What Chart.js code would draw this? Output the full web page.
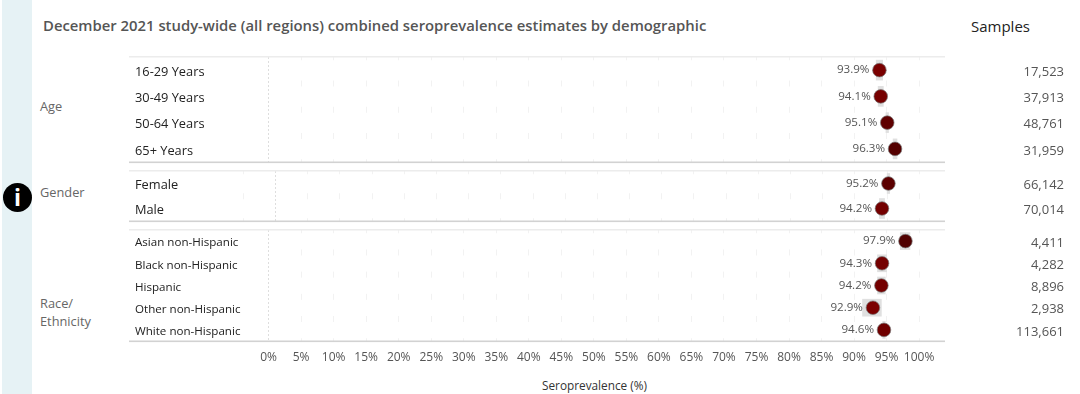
<!DOCTYPE html>
<html><head><meta charset="utf-8">
<style>
html,body{margin:0;padding:0;background:#fff;width:1080px;height:394px;overflow:hidden}
canvas{position:absolute;left:0;top:0}
.t{position:absolute;white-space:nowrap;font-family:"Open Sans",sans-serif}
#band{position:absolute;left:2px;top:0;width:30px;height:394px;background:#e6f2f5}
#info{position:absolute;left:3px;top:183px;width:29px;height:29px;border-radius:50%;background:#000;color:#fff;font:bold 23px/29px "Open Sans",sans-serif;text-align:center}
.g{color:#666;font-size:12.8px;left:40px}
</style></head><body>
<div id="band"></div>
<div class="t" style="left:43px;top:15px;font-size:14.85px;font-weight:600;color:#555">December 2021 study-wide (all regions) combined seroprevalence estimates by demographic</div>
<div class="t" style="left:971px;top:16px;font-size:15px;color:#222">Samples</div>
<div class="t g" style="top:97px">Age</div>
<div class="t g" style="top:183px">Gender</div>
<div class="t g" style="top:294px">Race/</div>
<div class="t g" style="top:312px">Ethnicity</div>
<div id="info">i</div>
<div class="t" style="left:542px;top:377px;font-size:11.8px;color:#333">Seroprevalence (%)</div>
<canvas id="c1" width="1080" height="394"></canvas>
<canvas id="c2" width="1080" height="394"></canvas>
<canvas id="c3" width="1080" height="394"></canvas>
<script src="https://cdn.jsdelivr.net/npm/chart.js@4"></script>
<script>
const ageLabels=["16-29 Years","30-49 Years","50-64 Years","65+ Years"];
const ageValues=[93.9,94.1,95.1,96.3];
const ageLow=[93.4,93.7,94.9,96.0];
const ageHigh=[94.4,94.5,95.3,96.6];
const ageSamples=["17,523","37,913","48,761","31,959"];
const ageColors=["#7a0000","#760000","#5f0000","#540000"];

const genderLabels=["Female","Male"];
const genderValues=[95.2,94.2];
const genderLow=[95.0,93.8];
const genderHigh=[95.4,94.6];
const genderSamples=["66,142","70,014"];
const genderColors=["#5c0000","#740000"];

const raceLabels=["Asian non-Hispanic","Black non-Hispanic","Hispanic","Other non-Hispanic","White non-Hispanic"];
const raceValues=[97.9,94.3,94.2,92.9,94.6];
const raceLow=[97.1,93.6,93.6,91.3,94.4];
const raceHigh=[98.6,95.0,94.8,94.2,94.8];
const raceSamples=["4,411","4,282","8,896","2,938","113,661"];
const raceColors=["#500000","#740000","#740000","#7c0000","#700000"];

const axisTicks=[0,5,10,15,20,25,30,35,40,45,50,55,60,65,70,75,80,85,90,95,100];
const FONT='"Open Sans",sans-serif';

const annot={id:'annot',
  beforeDatasetsDraw(ch){
    const a=ch.chartArea,c=ch.ctx;c.save();
    c.fillStyle='#ececec';c.fillRect(a.left,a.top-1,a.right-a.left,1.5);
    c.fillStyle='#d2d2d2';c.fillRect(a.left,a.bottom-.5,a.right-a.left,1.6);
    c.restore();
  },
  afterDatasetsDraw(ch,args,o){
    const c=ch.ctx,y=ch.scales.y,x=ch.scales.x;c.save();c.textBaseline='middle';
    c.fillStyle='#555';
    o.values.forEach((v,i)=>{
      c.font='11.6px '+FONT;c.textAlign='right';
      c.fillText(v.toFixed(1)+'%',x.getPixelForValue(v)-10,y.getPixelForTick(i));
      c.font='13px '+FONT;
      c.fillText(o.samples[i],1064,y.getPixelForTick(i)+2);
    });
    c.restore();
  }};

function panel(id,labels,values,low,high,samples,colors,cfg){
  const data=labels.map((l,i)=>({x:values[i],y:l}));
  return new Chart(document.getElementById(id),{
    type:'bar',
    plugins:[annot],
    data:{labels,datasets:[
      {type:'line',indexAxis:'y',data,showLine:false,order:1,
       pointRadius:6.8,pointBorderWidth:1,pointBorderColor:'rgba(120,120,120,.7)',
       pointBackgroundColor:colors},
      {type:'bar',data:low.map((v,i)=>[v,high[i]]),order:2,
       backgroundColor:'#e0e0e0',barThickness:cfg.ci}
    ]},
    options:{indexAxis:'y',responsive:false,animation:false,maintainAspectRatio:false,
      layout:{padding:{left:129,right:135,top:cfg.top,bottom:cfg.bottom}},
      plugins:{legend:{display:false},tooltip:{enabled:false},
        annot:{values,samples}},
      scales:{
        x:{type:'linear',min:cfg.min,max:cfg.max,
          afterBuildTicks(s){s.ticks=cfg.grid.map(value=>({value}));},
          afterFit(s){s.height=cfg.axisH;},
          border:{display:false,
            dash:ctx=>ctx.tick&&ctx.tick.value===0?[2,2]:[6,cfg.gap],
            dashOffset:ctx=>ctx.tick&&ctx.tick.value===0?0:cfg.offset},
          grid:{drawTicks:false,color:ctx=>ctx.tick&&ctx.tick.value===0?'#dedede':'#f2f2f2',lineWidth:1},
          ticks:{display:cfg.showTicks,autoSkip:false,maxRotation:0,padding:9,color:'#555',
            font:{family:FONT,size:12},callback:v=>axisTicks.includes(v)?v+'%':''}},
        y:{type:'category',offset:true,
          afterFit(s){s.width=0;},
          border:{display:false},grid:{display:false},
          ticks:{mirror:true,padding:6,labelOffset:2,color:'#222',
            font:{family:FONT,size:cfg.font}}}
      }}
  });
}
const mainScale={min:-21.46,max:103.98};
panel('c1',ageLabels,ageValues,ageLow,ageHigh,ageSamples,ageColors,
  {...mainScale,top:57,bottom:232,axisH:0,showTicks:false,ci:20,font:12.8,grid:axisTicks,gap:20.25,offset:2.75});
panel('c2',genderLabels,genderValues,genderLow,genderHigh,genderSamples,genderColors,
  {min:-22.755,max:103.99,top:171,bottom:173,axisH:0,showTicks:false,ci:20,font:12.8,grid:[-5].concat(axisTicks),gap:19,offset:2.75});
panel('c3',raceLabels,raceValues,raceLow,raceHigh,raceSamples,raceColors,
  {...mainScale,top:230,bottom:23,axisH:30,showTicks:true,ci:17,font:11.6,grid:axisTicks,gap:16.2,offset:2.75});
</script>
</body></html>
